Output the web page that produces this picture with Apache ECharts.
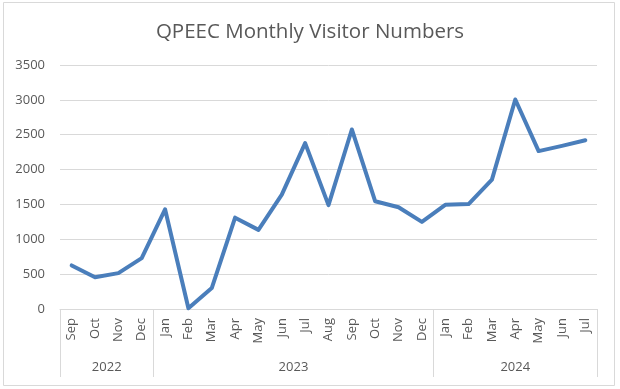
<!DOCTYPE html>
<html>
<head>
<meta charset="utf-8">
<script src="https://cdn.jsdelivr.net/npm/echarts@6/dist/echarts.min.js"></script>
<style>html,body{margin:0;padding:0;background:#fff}#main{width:620px;height:389px}</style>
</head>
<body>
<div id="main"></div>
<script>
const title = 'QPEEC Monthly Visitor Numbers';
const months = ['Sep','Oct','Nov','Dec','Jan','Feb','Mar','Apr','May','Jun','Jul','Aug','Sep','Oct','Nov','Dec','Jan','Feb','Mar','Apr','May','Jun','Jul'];
const years = ['2022','2023','2024'];
const monthsPerYear = [4, 12, 7];
const visitors = [625,455,515,730,1430,10,300,1310,1135,1640,2380,1490,2575,1545,1460,1250,1495,1505,1855,3005,2265,2340,2420];
const yMin = 0, yMax = 3500, yStep = 500;

// build half-step category axis for the year level
const halfCount = months.length * 2 + 1;
const yearLevel = new Array(halfCount).fill('');
const boundaries = new Set([0]);
let start = 0;
years.forEach((y, i) => {
  yearLevel[2 * start + monthsPerYear[i]] = y;
  start += monthsPerYear[i];
  boundaries.add(2 * start);
});

const FONT = '"Open Sans", sans-serif';
const TXT = '#595959';
const GRID = '#d9d9d9';

const chart = echarts.init(document.getElementById('main'), null, {renderer: 'canvas'});
chart.setOption({
  animation: false,
  backgroundColor: '#fff',
  title: {
    text: title, left: 'center', top: 17,
    textStyle: {fontFamily: FONT, fontSize: 20.5, fontWeight: 'normal', color: TXT}
  },
  graphic: [{
    type: 'rect', shape: {x: 3.5, y: 2.5, width: 611, height: 383},
    style: {fill: 'none', stroke: GRID, lineWidth: 1}, silent: true, z: -1
  }],
  grid: {left: 60, right: 23, top: 65, bottom: 80, containLabel: false},
  xAxis: [{
    type: 'category', data: months, position: 'bottom', boundaryGap: true,
    axisLine: {show: true, lineStyle: {color: GRID, width: 1}},
    axisTick: {show: false},
    axisLabel: {interval: 0, rotate: 90, margin: 9, color: TXT, fontFamily: FONT, fontSize: 13}
  }, {
    type: 'category', data: yearLevel, position: 'bottom', boundaryGap: false,
    axisLine: {show: false},
    axisTick: {show: true, length: 68, interval: (i) => boundaries.has(i), lineStyle: {color: GRID, width: 1}},
    axisLabel: {interval: 0, margin: 52, color: TXT, fontFamily: FONT, fontSize: 13, hideOverlap: false},
    splitLine: {show: false}
  }],
  yAxis: {
    type: 'value', min: yMin, max: yMax, interval: yStep,
    axisLine: {show: false}, axisTick: {show: false},
    axisLabel: {margin: 15, color: TXT, fontFamily: FONT, fontSize: 13, formatter: (v) => String(v)},
    splitLine: {lineStyle: {color: GRID, width: 1}}
  },
  series: [{
    type: 'line', data: visitors, xAxisIndex: 0,
    showSymbol: false, symbol: 'none',
    lineStyle: {color: '#4A7EBB', width: 4, join: 'round', cap: 'round'},
    itemStyle: {color: '#4A7EBB'}
  }]
});
</script>
</body>
</html>
